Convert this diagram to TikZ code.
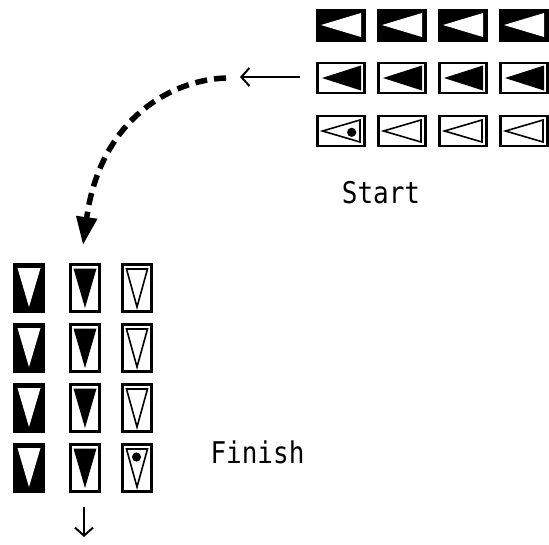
\documentclass[tikz,border=0pt]{standalone}
\usepackage{fontspec}
\newfontfamily\labelfont{DejaVu Sans Mono}
\usetikzlibrary{arrows.meta}
\begin{document}
\begin{tikzpicture}[x=1pt,y=-1pt,
  blackbox/.style={rectangle, fill=black, draw=none, inner sep=0pt, outer sep=0pt},
  framebox/.style={rectangle, fill=white, draw=black, line width=2.8pt, inner sep=0pt, outer sep=0pt},
  hsize/.style={minimum width=50pt, minimum height=33pt},
  hsizef/.style={minimum width=47pt, minimum height=30pt},
  vsize/.style={minimum width=32pt, minimum height=50pt},
  vsizef/.style={minimum width=29pt, minimum height=47pt},
  outlinetri/.style={draw=black, line width=1.6pt, line join=miter, fill=white},
  thinarrow/.style={line width=2pt, -{Straight Barb[length=8pt, width=18pt, line width=2pt]}},
  movepath/.style={line width=5.5pt, dash pattern=on 12pt off 7pt, -{Triangle[length=28pt, width=20pt]}},
  lbl/.style={font=\labelfont\fontsize{26}{26}\selectfont, anchor=base, inner sep=0pt}
]
\useasboundingbox (0,0) rectangle (549,544);

% ---- start formation (horizontal) ----
\foreach \c [evaluate=\c as \xx using 341+61*(\c-1)] in {1,2,3,4} {
  \node[blackbox, hsize] (t1\c) at (\xx,25) {};
  \node[framebox, hsizef] (t2\c) at (\xx,78) {};
  \node[framebox, hsizef] (t3\c) at (\xx,131) {};
  \begin{scope}[shift={(t1\c.center)}]
    \fill[white] (-20,0) -- (20,-12) -- (20,12) -- cycle;
  \end{scope}
  \begin{scope}[shift={(t2\c.center)}]
    \fill[black] (-19,0) -- (20,-12.5) -- (20,12.5) -- cycle;
  \end{scope}
  \begin{scope}[shift={(t3\c.center)}]
    \draw[outlinetri] (-18.5,0) -- (19,-11) -- (19,11) -- cycle;
  \end{scope}
}
\fill[black] ([shift={(10.7,1.3)}]t31.center) circle (4.6pt);

% ---- finish formation (vertical) ----
\foreach \r [evaluate=\r as \yy using 288+60*(\r-1)] in {1,2,3,4} {
  \node[blackbox, vsize] (b\r1) at (29,\yy) {};
  \node[framebox, vsizef] (b\r2) at (85,\yy) {};
  \node[framebox, vsizef] (b\r3) at (137,\yy) {};
  \begin{scope}[shift={(b\r1.center)}]
    \fill[white] (-11.5,-20) -- (11.5,-20) -- (0,19) -- cycle;
  \end{scope}
  \begin{scope}[shift={(b\r2.center)}]
    \fill[black] (-11.5,-19.5) -- (11.5,-19.5) -- (0,20) -- cycle;
  \end{scope}
  \begin{scope}[shift={(b\r3.center)}]
    \draw[outlinetri] (-10.5,-19) -- (10.5,-19) -- (0,19) -- cycle;
  \end{scope}
}
\fill[black] ([shift={(-0.5,-11)}]b43.center) circle (4.6pt);

% ---- connectors ----
\coordinate (la) at (300,77);
\coordinate (lb) at (240,77);
\draw[thinarrow] (la) -- (lb);

\coordinate (cs) at (226,78);
\coordinate (ce) at (83,245);
\draw[movepath] (cs) .. controls (170,80) and (100,120) .. (ce);

\coordinate (da) at (84,507);
\coordinate (db) at (84,537);
\draw[thinarrow] (da) -- (db);

% ---- labels ----
\node[lbl] (start) at (381,203.3) {\scalebox{1}[1.15]{Start}};
\node[lbl] (finish) at (257.5,463) {\scalebox{1}[1.15]{Finish}};
\end{tikzpicture}
\end{document}
